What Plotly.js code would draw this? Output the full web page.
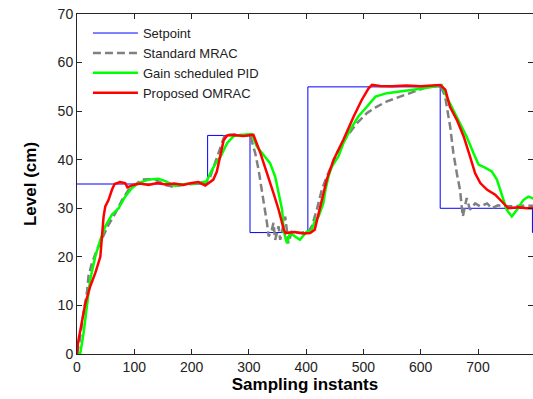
<!DOCTYPE html>
<html>
<head>
<meta charset="utf-8">
<script src="https://cdn.plot.ly/plotly-3.0.1.min.js"></script>
<style>
  html, body { margin: 0; padding: 0; background: #fff; }
  #chart { width: 533px; height: 399px; }
</style>
</head>
<body>
<div id="chart"></div>
<script>
// Setpoint (reference level) profile
const spT = [0, 228, 228, 302, 302, 403, 403, 634, 634, 795, 795, 800];
const spLevel = [35, 35, 45, 45, 25, 25, 55, 55, 30, 30, 25, 25];

// Standard MRAC response
const mracT = [0, 5, 12, 17.3, 20, 26, 35, 45, 55, 67, 78.5, 90, 101.7, 113, 125, 136.5, 154, 165.6, 183, 206, 224,
  232.6, 240, 247, 253, 258, 275, 290, 302, 311, 317, 323, 327, 331.6, 334.6, 340, 343, 346, 351.8, 354.7, 363.5,
  369, 375, 389, 404, 410, 418.6, 427.3, 436, 453.7, 471, 488.5, 506, 523, 541, 564, 587, 610, 634, 642.6, 651.4,
  657, 663, 668.6, 671.5, 673.5, 680.3, 686, 695, 704, 716, 724, 735, 750, 773, 797];
const mracLevel = [0, 3, 9, 12.6, 16, 18.7, 21.5, 24, 26.6, 29, 31.7, 33.8, 34.8, 35.9, 36, 35.9, 34.8, 34.5, 34.8, 35, 35.2,
  36.5, 39, 41.7, 43.7, 45.1, 45.2, 45, 45.1, 41.4, 37.9, 33.8, 30.4, 27, 24.2, 25.5, 27, 23.5, 26.3, 23.5, 28.3,
  22.8, 25.2, 24.9, 25.2, 26.3, 29.7, 33.8, 36.5, 41.4, 44.8, 47.5, 49.6, 50.9, 52, 53, 54, 54.9, 55.4, 53, 46.8,
  41.4, 37.2, 33.8, 30.4, 28.3, 32.1, 29.7, 31, 30.4, 31, 30, 30.6, 30.4, 30.5, 30.5];

// Gain scheduled PID response
const pidT = [0, 5.8, 11.5, 17.3, 23, 32, 40.7, 49.4, 61, 72.6, 84, 96, 107.5, 125, 142, 154, 171.5, 189, 212, 226,
  235.6, 244, 250, 262, 273, 285, 305, 314, 326, 337, 346, 352, 358, 361, 366.5, 372, 389, 401, 409, 416, 421.6,
  430, 434, 440, 445, 456.5, 465, 477, 491, 506, 521, 541, 564, 593, 622, 636.5, 645, 657, 669, 680, 692, 701, 713,
  724, 733, 742, 750, 759, 768, 779, 788, 797];
const pidLevel = [0, 0.2, 4.3, 9.8, 15.3, 20.1, 23.5, 26.3, 28.7, 30, 32.4, 34.2, 35.2, 35.9, 36.1, 35.6, 34.6, 35, 35.2, 35.5,
  37.9, 39.6, 40.5, 43.4, 44.8, 45.1, 45.3, 42.7, 41, 39.3, 36.5, 33.1, 29.7, 25.2, 22.8, 24.9, 23.5, 25.2, 25.4, 27.6, 28.3,
  31, 34, 37, 38.6, 40.7, 43.4, 46.2, 48.9, 50.9, 53, 53.7, 54, 54.5, 55, 55.4, 53, 50.3, 47.5, 44.8, 41.4, 39, 38.3,
  37.6, 35.9, 32.4, 29.7, 28.3, 29.7, 31.7, 32.4, 32];

// Proposed OMRAC response
const omracT = [0, 2, 6, 10, 14.5, 23, 32, 40.7, 43.6, 46.4, 49.4, 55, 61, 65.6, 75, 81, 84, 88, 90, 98, 110, 125, 140,
  155, 170, 185, 200, 212, 224, 230, 238, 244, 250, 256, 262, 275, 290, 308, 320, 332, 343, 352, 361, 364, 380, 395,
  407, 415, 425, 436, 448, 465, 483, 497, 509, 515, 529, 550, 575, 600, 620, 634, 643, 651, 663, 675, 686, 695, 704,
  716, 730, 739, 748, 753, 770, 785, 800];
const omracLevel = [0, 2.5, 5, 8, 10.4, 13.9, 16.7, 20, 24.9, 28.3, 30.4, 31.7, 33.8, 35, 35.4, 35.3, 35.2, 34.3, 34.4, 34.8, 35.1, 34.8, 35.2,
  34.9, 35.1, 34.8, 35.2, 35.4, 34.7, 35.2, 35.9, 37.5, 40.5, 44, 45, 45.1, 44.9, 45.1, 41.4, 37.2, 33.1, 29.7, 25.6, 24.9, 25.1, 24.8,
  24.9, 25.6, 30.4, 35.9, 40, 44.1, 48.9, 52.3, 54.7, 55.4, 55.2, 55.1, 55.3, 55.1, 55.3, 55.4, 54.4, 50.9, 48.2, 44.8, 40.7, 37.2, 35.2,
  33.8, 32.8, 31.7, 30.4, 30, 30.2, 30, 30];

const FONT = '"Liberation Sans", Arial, Helvetica, sans-serif';

const traces = [
  { x: spT, y: spLevel, name: 'Setpoint', mode: 'lines',
    line: { color: '#0000ff', width: 1 } },
  { x: mracT, y: mracLevel, name: 'Standard MRAC', mode: 'lines',
    line: { color: '#808080', width: 2.5, dash: '8px,4px' } },
  { x: pidT, y: pidLevel, name: 'Gain scheduled PID', mode: 'lines',
    line: { color: '#00ff00', width: 2.5 } },
  { x: omracT, y: omracLevel, name: 'Proposed OMRAC', mode: 'lines',
    line: { color: '#ff0000', width: 2.5 } }
];

const axisCommon = {
  showgrid: false, zeroline: false,
  showline: true, linecolor: '#262626', linewidth: 1,
  mirror: 'ticks', ticks: 'inside', ticklen: 5, tickcolor: '#262626',
  tickfont: { family: FONT, size: 14, color: '#222' }
};

const layout = {
  width: 533, height: 399,
  margin: { l: 77, r: 0, t: 14, b: 45 },
  paper_bgcolor: '#fff', plot_bgcolor: '#fff',
  font: { family: FONT, color: '#000' },
  showlegend: true,
  legend: {
    x: 0.024, y: 0.988, xanchor: 'left', yanchor: 'top',
    bgcolor: 'rgba(0,0,0,0)', borderwidth: 0,
    font: { family: FONT, size: 13, color: '#222' },
    itemwidth: 45, tracegroupgap: 0
  },
  xaxis: Object.assign({}, axisCommon, {
    range: [0, 796], tickvals: [0, 100, 200, 300, 400, 500, 600, 700],
    title: { text: '<b>Sampling instants</b>', font: { family: FONT, size: 17, color: '#000' }, standoff: 4 }
  }),
  yaxis: Object.assign({}, axisCommon, {
    range: [0, 70], dtick: 10,
    title: { text: '<b>Level (cm)</b>', font: { family: FONT, size: 17, color: '#000' }, standoff: 16 }
  })
};

Plotly.newPlot('chart', traces, layout, { staticPlot: true, displayModeBar: false });
</script>
</body>
</html>
